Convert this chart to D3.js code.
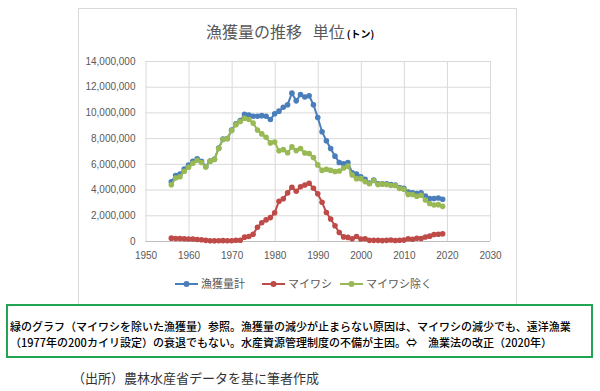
<!DOCTYPE html>
<html>
<head>
<meta charset="utf-8">
<script src="https://cdn.jsdelivr.net/npm/d3@7"></script>
<style>
  body { margin: 0; background: #fff; }
  svg { display: block; }
  .jp { font-family: "Noto Sans CJK JP", sans-serif; }
  .tick text { font-family: "Liberation Sans", Arial, sans-serif; font-size: 10px; fill: #595959; }
  .tick line { stroke: #d9d9d9; }
</style>
</head>
<body>
<svg></svg>
<script>
// catch in thousand tonnes, 1956-2019
let years = d3.range(1956, 2020);

let totalCatch = [
  4600, 5100, 5200, 5600,
  5900, 6200, 6400, 6200, 5800, 6210, 6360, 7220, 7930, 7970,
  8620, 9110, 9360, 9850, 9800, 9700, 9700, 9750, 9700, 9450,
  9900, 10100, 10400, 10600, 11500, 10900, 11400, 11200, 11300, 10600,
  9600, 8500, 7800, 7200, 6600, 6100, 6000, 6100, 5300, 5200,
  5000, 4800, 4500, 4750, 4450, 4450, 4450, 4400, 4350, 4150,
  4100, 3800, 3750, 3700, 3750, 3500, 3300, 3300, 3350, 3250
];

let sardine = [
  220, 200, 200, 170,
  160, 150, 120, 100, 50, 10, 15, 20, 30, 20,
  20, 60, 60, 300, 350, 530, 1070, 1420, 1640, 1820,
  2200, 3090, 3290, 3740, 4180, 3870, 4210, 4360, 4490, 4100,
  3680, 3010, 2220, 1710, 1190, 660, 320, 280, 170, 350,
  150, 180, 50, 50, 50, 30, 50, 80, 35, 57,
  70, 176, 135, 215, 196, 311, 378, 500, 522, 556
];

let withoutSardine = [
  4380, 4900, 5000, 5430,
  5740, 6050, 6280, 6100, 5750, 6200, 6345, 7200, 7900, 7950,
  8600, 9050, 9300, 9550, 9450, 9170, 8630, 8330, 8060, 7630,
  7700, 7010, 7110, 6860, 7320, 7030, 7190, 6840, 6810, 6500,
  5920, 5490, 5580, 5490, 5410, 5440, 5680, 5820, 5130, 4850,
  4850, 4620, 4450, 4700, 4400, 4420, 4400, 4320, 4315, 4093,
  4030, 3624, 3615, 3485, 3554, 3189, 2922, 2800, 2828, 2694
];

let seriesNames = ['漁獲量計', 'マイワシ', 'マイワシ除く'];
let seriesColors = ['#4a7ebb', '#be4b48', '#98b954'];

let yTicks = [0, 2000, 4000, 6000, 8000, 10000, 12000, 14000];
let yTickLabels = ['0', '2,000,000', '4,000,000', '6,000,000', '8,000,000',
                   '10,000,000', '12,000,000', '14,000,000'];
let xTicks = [1950, 1960, 1970, 1980, 1990, 2000, 2010, 2020, 2030];

let noteLines = [
  '緑のグラフ（マイワシを除いた漁獲量）参照。漁獲量の減少が止まらない原因は、マイワシの減少でも、遠洋漁業',
  '（1977年の200カイリ設定）の衰退でもない。水産資源管理制度の不備が主因。⇔　漁業法の改正（2020年）'
];
let sourceText = '（出所）農林水産省データを基に筆者作成';

let width = 600;
let height = 391;
let plot = { left: 145.5, right: 490, top: 61, bottom: 241 };

let svg = d3.select('svg')
    .attr('width', width)
    .attr('height', height);

// chart area frame
svg.append('rect')
    .attr('x', 78.5)
    .attr('y', 8.5)
    .attr('width', 438)
    .attr('height', 296)
    .attr('fill', '#fff')
    .attr('stroke', '#d9d9d9');

let xScale = d3.scaleLinear()
    .domain([1950, 2030])
    .range([plot.left, plot.right]);

let yScale = d3.scaleLinear()
    .domain([0, 14000])
    .range([plot.bottom, plot.top]);

let yAxis = d3.axisLeft(yScale)
    .tickValues(yTicks)
    .tickFormat((d, i) => yTickLabels[i])
    .tickSize(-(plot.right - plot.left))
    .tickPadding(10);

let xAxis = d3.axisBottom(xScale)
    .tickValues(xTicks)
    .tickFormat(d3.format('d'))
    .tickSize(-(plot.bottom - plot.top))
    .tickPadding(9);

let gy = svg.append('g')
    .attr('transform', `translate(${plot.left}, 0)`)
    .call(yAxis);
gy.select('.domain').remove();

let gx = svg.append('g')
    .attr('transform', `translate(0, ${plot.bottom})`)
    .call(xAxis);
gx.select('.domain').remove();
gx.selectAll('.tick text').attr('dy', '0.9em');

svg.append('line')
    .attr('x1', plot.left)
    .attr('x2', plot.right)
    .attr('y1', plot.bottom + 0.5)
    .attr('y2', plot.bottom + 0.5)
    .attr('stroke', '#bfbfbf');

// title
let title = svg.append('text')
    .attr('class', 'jp')
    .attr('x', 206)
    .attr('y', 38)
    .attr('fill', '#595959')
    .style('font-size', '16px')
    .style('white-space', 'pre')
    .text('漁獲量の推移   単位');
title.append('tspan')
    .attr('fill', '#000')
    .style('font-size', '10px')
    .style('font-weight', 'bold')
    .attr('dx', 2)
    .text('(トン)');

// series
let allSeries = [totalCatch, sardine, withoutSardine];
let line = d3.line()
    .x((d, i) => xScale(years[i]))
    .y(d => yScale(d));

allSeries.forEach((values, s) => {
    svg.append('path')
        .datum(values)
        .attr('d', line)
        .attr('fill', 'none')
        .attr('stroke', seriesColors[s])
        .attr('stroke-width', 2);

    svg.append('g')
        .selectAll('circle')
        .data(values)
        .enter()
        .append('circle')
            .attr('cx', (d, i) => xScale(years[i]))
            .attr('cy', d => yScale(d))
            .attr('r', 2.8)
            .attr('fill', seriesColors[s]);
});

// legend
let legendX = [175, 262, 340];
let legend = svg.append('g')
    .attr('transform', 'translate(0, 284)');

seriesNames.forEach((name, s) => {
    let g = legend.append('g')
        .attr('transform', `translate(${legendX[s]}, 0)`);
    g.append('line')
        .attr('x1', 0)
        .attr('x2', 23)
        .attr('stroke', seriesColors[s])
        .attr('stroke-width', 2);
    g.append('circle')
        .attr('cx', 11.5)
        .attr('r', 3)
        .attr('fill', seriesColors[s]);
    g.append('text')
        .attr('class', 'jp')
        .attr('x', 26)
        .attr('dy', '0.35em')
        .attr('fill', '#595959')
        .style('font-size', '11px')
        .text(name);
});

// note box
svg.append('rect')
    .attr('x', 7)
    .attr('y', 305)
    .attr('width', 585)
    .attr('height', 52)
    .attr('fill', '#fff')
    .attr('stroke', '#21a453')
    .attr('stroke-width', 2);

svg.selectAll('.note')
    .data(noteLines)
    .enter()
    .append('text')
        .attr('class', 'jp note')
        .attr('x', 10)
        .attr('y', (d, i) => 331 + i * 16)
        .attr('fill', '#000')
        .style('font-size', '11px')
        .style('font-weight', '500')
        .text(d => d);

svg.append('text')
    .attr('class', 'jp')
    .attr('x', 72)
    .attr('y', 383)
    .attr('fill', '#333')
    .style('font-size', '13px')
    .text(sourceText);
</script>
</body>
</html>
